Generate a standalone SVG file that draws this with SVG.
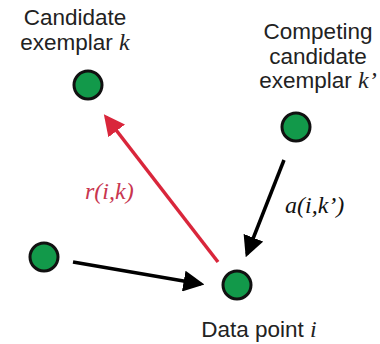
<svg xmlns="http://www.w3.org/2000/svg" width="380" height="344" viewBox="0 0 380 344">
<style>
.lbl{font-family:"Liberation Sans",Arial,sans-serif;font-size:22.5px;fill:#222;text-anchor:middle}
.m{font-family:"Liberation Serif","Times New Roman",serif;font-style:italic}
.node{fill:#12994a;stroke:#111;stroke-width:3}
.blk{stroke:#000;stroke-width:3.5;fill:none}
.red{stroke:#d9263b;stroke-width:3.5;fill:none}
</style>
<defs>
<marker id="ab" markerWidth="6" markerHeight="6" refX="5" refY="3" orient="auto" markerUnits="strokeWidth"><path d="M0,0 L6,3 L0,6 z" fill="#000"/></marker>
<marker id="ar" markerWidth="6" markerHeight="6" refX="5" refY="3" orient="auto" markerUnits="strokeWidth"><path d="M0,0 L6,3 L0,6 z" fill="#d9263b"/></marker>
</defs>
<rect width="380" height="344" fill="#fff"/>
<g id="connectors">
<line class="red" x1="218" y1="262" x2="106" y2="117" marker-end="url(#ar)"/>
<line class="blk" x1="284" y1="160" x2="247" y2="254" marker-end="url(#ab)"/>
<line class="blk" x1="73" y1="262" x2="201" y2="284" marker-end="url(#ab)"/>
<text x="85" y="199" class="m" font-size="24" fill="#c8364f">r(i,k)</text>
<text x="285" y="213" class="m" font-size="24" fill="#111">a(i,k’)</text>
</g>
<g id="node-k">
<circle class="node" cx="88" cy="85" r="14"/>
<text class="lbl" x="75" y="25">Candidate</text>
<text class="lbl" x="75" y="50">exemplar <tspan class="m" font-size="24">k</tspan></text>
</g>
<g id="node-kp">
<circle class="node" cx="296" cy="127" r="14"/>
<text class="lbl" x="318" y="39">Competing</text>
<text class="lbl" x="318" y="64">candidate</text>
<text class="lbl" x="318" y="88">exemplar <tspan class="m" font-size="24">k’</tspan></text>
</g>
<g id="node-left">
<circle class="node" cx="44" cy="257" r="14"/>
</g>
<g id="node-i">
<circle class="node" cx="237" cy="285" r="14"/>
<text class="lbl" x="259" y="337">Data point <tspan class="m" font-size="24">i</tspan></text>
</g>
</svg>
